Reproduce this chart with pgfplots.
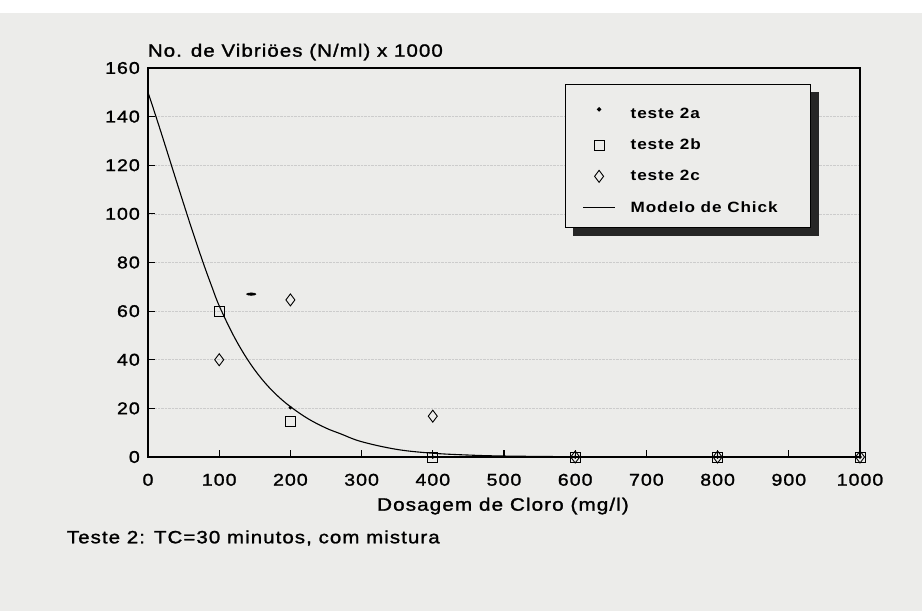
\documentclass[border=0pt]{standalone}
\usepackage{pgfplots}
\pgfplotsset{compat=1.18}
\usepackage{fontspec}
\setmainfont{Liberation Sans}[FakeStretch=1.15, LetterSpace=6, UprightFeatures={FakeBold=1.4}]
\usetikzlibrary{backgrounds,calc}
\definecolor{paper}{RGB}{236,236,234}
\pgfplotsset{
  markleg/.style={legend image code/.code={\draw[##1] plot coordinates {(16pt,0pt)};}},
  lineleg/.style={legend image code/.code={\draw[##1] (0pt,0pt) -- (32pt,0pt);}},
}
\begin{document}
\begin{tikzpicture}
\path[use as bounding box] (0,0) rectangle (922pt,611pt);
\begin{scope}[on background layer]
\fill[paper] (0,0) rectangle (922pt,598pt);
\end{scope}
\begin{axis}[
  scale only axis, width=712pt, height=389pt,
  at={(148pt,154pt)}, anchor=south west,
  xmin=0, xmax=1000, ymin=0, ymax=160,
  xtick={0,100,...,1000}, ytick={0,20,...,160},
  tick align=inside, tick pos=left,
  major tick length=7pt,
  axis line style={line width=1.2pt},
  every tick/.style={black, line width=1.1pt},
  ymajorgrids, grid style={densely dotted, black!20, line width=0.6pt},
  /pgf/number format/assume math mode=true,
  /pgf/number format/1000 sep={},
  ticklabel style={font=\fontsize{17}{17}\selectfont},
  xticklabel style={anchor=base, inner sep=0pt, yshift=-28.7pt},
  yticklabel style={anchor=east, inner sep=0pt, xshift=-8pt},
  clip=false,
  legend cell align=left,
  legend style={name=leg, at={(0.5857,0.9589)}, anchor=north west,
    draw=black, line width=1.1pt, fill=paper,
    font=\bfseries\fontsize{14.9}{15}\selectfont,
    inner xsep=17pt, inner ysep=14pt, row sep=19pt,
    nodes={inner sep=0pt},
    /tikz/every odd column/.style={column sep=15pt}},
]
\addplot[only marks, mark=*, mark size=1.6pt, black, markleg]
  coordinates {(200,20.3) (400,0) (600,0) (800,0) (1000,0)};
\addlegendentry{\rule{0pt}{20pt}teste 2a}
\addplot[only marks, mark=square, mark size=5pt, black, line width=0.9pt, markleg]
  coordinates {(100,60) (200,14.8) (400,0) (600,0) (800,0) (1000,0)};
\addlegendentry{teste 2b}
\addplot[only marks, mark=diamond, mark size=6pt, black, line width=0.9pt, markleg]
  coordinates {(100,40) (200,64.6) (400,16.8) (600,0) (800,0) (1000,0)};
\addlegendentry{teste 2c}
\addplot[black, line width=1.1pt, smooth, tension=0.6, no markers, lineleg]
  coordinates {(0,150) (10,141.1) (20,132) (30,122.7) (40,113.4) (50,104.2)
   (60,95.1) (70,86.3) (80,77.8) (90,69.8) (100,62.2) (120,50) (140,40)
   (160,32) (180,25.7) (200,20.7) (225,15.7) (250,11.9) (270,9.6) (300,6.3)
   (350,3.1) (400,1.55) (450,0.8) (500,0.4) (600,0.12) (700,0.04) (800,0.01) (1000,0)};
\addlegendentry{Modelo de Chick\rule{16pt}{0pt}}
\addplot[only marks, mark=*, black, mark size=1.6pt, mark options={xscale=3, yscale=0.8}, forget plot]
  coordinates {(145,67)};
\end{axis}
\fill[black!85] ($(leg.north east)+(0pt,-8pt)$) rectangle ($(leg.south east)+(8pt,-8pt)$);
\fill[black!85] ($(leg.south west)+(8pt,0pt)$) rectangle ($(leg.south east)+(8pt,-8pt)$);
\node[anchor=base west, inner sep=0pt, font=\fontsize{17.8}{18}\selectfont] at (147.7pt,554.3pt) {No. de Vibriöes (N/ml) x 1000};
\node[anchor=base, inner sep=0pt, font=\fontsize{18}{18}\selectfont] at (503pt,100.3pt) {Dosagem de Cloro (mg/l)};
\node[anchor=base west, inner sep=0pt, font=\fontsize{17.8}{18}\selectfont] at (66.7pt,67.7pt) {Teste 2: TC=30 minutos, com mistura};
\end{tikzpicture}
\end{document}
